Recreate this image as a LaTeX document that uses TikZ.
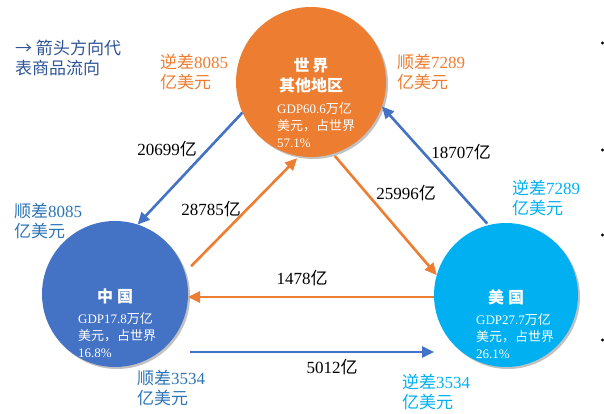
\documentclass[tikz,border=0pt]{standalone}
\usepackage{fontspec}
\setmainfont{Liberation Serif}
\newfontfamily\cjk{Noto Sans CJK SC}
\newcommand\zh[1]{{\cjk #1}}
\usetikzlibrary{arrows.meta,shadows}
\definecolor{cOrange}{HTML}{ED7D31}
\definecolor{cBlue}{HTML}{4472C4}
\definecolor{cCyan}{HTML}{00B0F0}
\definecolor{cLblue}{HTML}{2E75B6}
\definecolor{cNavy}{HTML}{2F5597}
\begin{document}
\begin{tikzpicture}[x=1pt,y=-1pt,
  circ/.style={circle,inner sep=0pt,outer sep=0pt,draw=none,
    drop shadow={shadow xshift=2pt,shadow yshift=-2pt,opacity=0.35,fill=black!70}},
  arr/.style={line width=2.6pt,-{Triangle[length=12pt,width=11pt]}},
  lbl/.style={font=\fontsize{17}{20}\selectfont,inner sep=0pt,align=left,anchor=west},
  num/.style={font=\fontsize{17}{20}\selectfont,inner sep=0pt},
  ttl/.style={font=\fontsize{16}{20}\selectfont\bfseries,text=white,inner sep=0pt,align=center},
  gdp/.style={font=\fontsize{13}{17}\selectfont,text=white,inner sep=0pt,align=left,anchor=west}]
\useasboundingbox (0,0) rectangle (604,414);

% circles
\node[circ,fill=cOrange,minimum size=150pt] (W) at (311,82) {};
\node[circ,fill=cBlue,minimum size=146pt] (C) at (115,294) {};
\node[circ,fill=cCyan,minimum size=144pt] (U) at (506,295) {};

% circle texts
\node[ttl] (Wt) at (311,75) {\zh{世\hspace{3pt}界}\\\zh{其他地区}};
\node[gdp] (Wg) at (277,125) {GDP60.6\zh{万亿}\\\zh{美元，占世界}\\57.1\%};
\node[ttl] (Ct) at (115,296) {\zh{中\hspace{4pt}国}};
\node[gdp] (Cg) at (78,335) {GDP17.8\zh{万亿}\\\zh{美元，占世界}\\16.8\%};
\node[ttl] (Ut) at (506,297) {\zh{美\hspace{4pt}国}};
\node[gdp] (Ug) at (476,336) {GDP27.7\zh{万亿}\\\zh{美元，占世界}\\26.1\%};

% arrows
\draw[arr,cBlue] (W.204.4) -- (C.72.6);
\draw[arr,cOrange,shorten <=9pt,shorten >=3pt] (C.17.8) -- (W.261.9);
\draw[arr,cOrange,shorten <=3pt] (W.287.3) -- (U.164.6);
\draw[arr,cBlue,shorten <=2pt] (U.104.8) -- (W.341.3);
\draw[arr,cOrange] ([yshift=-2pt]U.west) -- ([yshift=-2pt]U.west -| C.east);
\coordinate (s6) at (190,352);
\coordinate (e6) at (434,352);
\draw[arr,cBlue] (s6) -- (e6);

% edge labels
\node[num] (l1) at (167,149) {20699\zh{亿}};
\node[num] (l2) at (211,209) {28785\zh{亿}};
\node[num] (l3) at (406,193) {25996\zh{亿}};
\node[num] (l4) at (461,152) {18707\zh{亿}};
\node[num] (l5) at (302,278) {1478\zh{亿}};
\node[num] (l6) at (332,367) {5012\zh{亿}};

% balance labels
\node[lbl,text=cOrange] (b1) at (160,72) {\zh{逆差}8085\\\zh{亿美元}};
\node[lbl,text=cOrange] (b2) at (397,72) {\zh{顺差}7289\\\zh{亿美元}};
\node[lbl,text=cLblue] (b3) at (14,221) {\zh{顺差}8085\\\zh{亿美元}};
\node[lbl,text=cCyan] (b4) at (512,198) {\zh{逆差}7289\\\zh{亿美元}};
\node[lbl,text=cLblue] (b5) at (137,388) {\zh{顺差}3534\\\zh{亿美元}};
\node[lbl,text=cCyan] (b6) at (402,392) {\zh{逆差}3534\\\zh{亿美元}};

% legend
\node[lbl,text=cNavy] (lg) at (15,58) {\zh{→ 箭头方向代}\\\zh{表商品流向}};

% bullets
\foreach \yy in {43,150,235,340} \fill (602.5,\yy) circle (1.6pt);
\end{tikzpicture}
\end{document}
